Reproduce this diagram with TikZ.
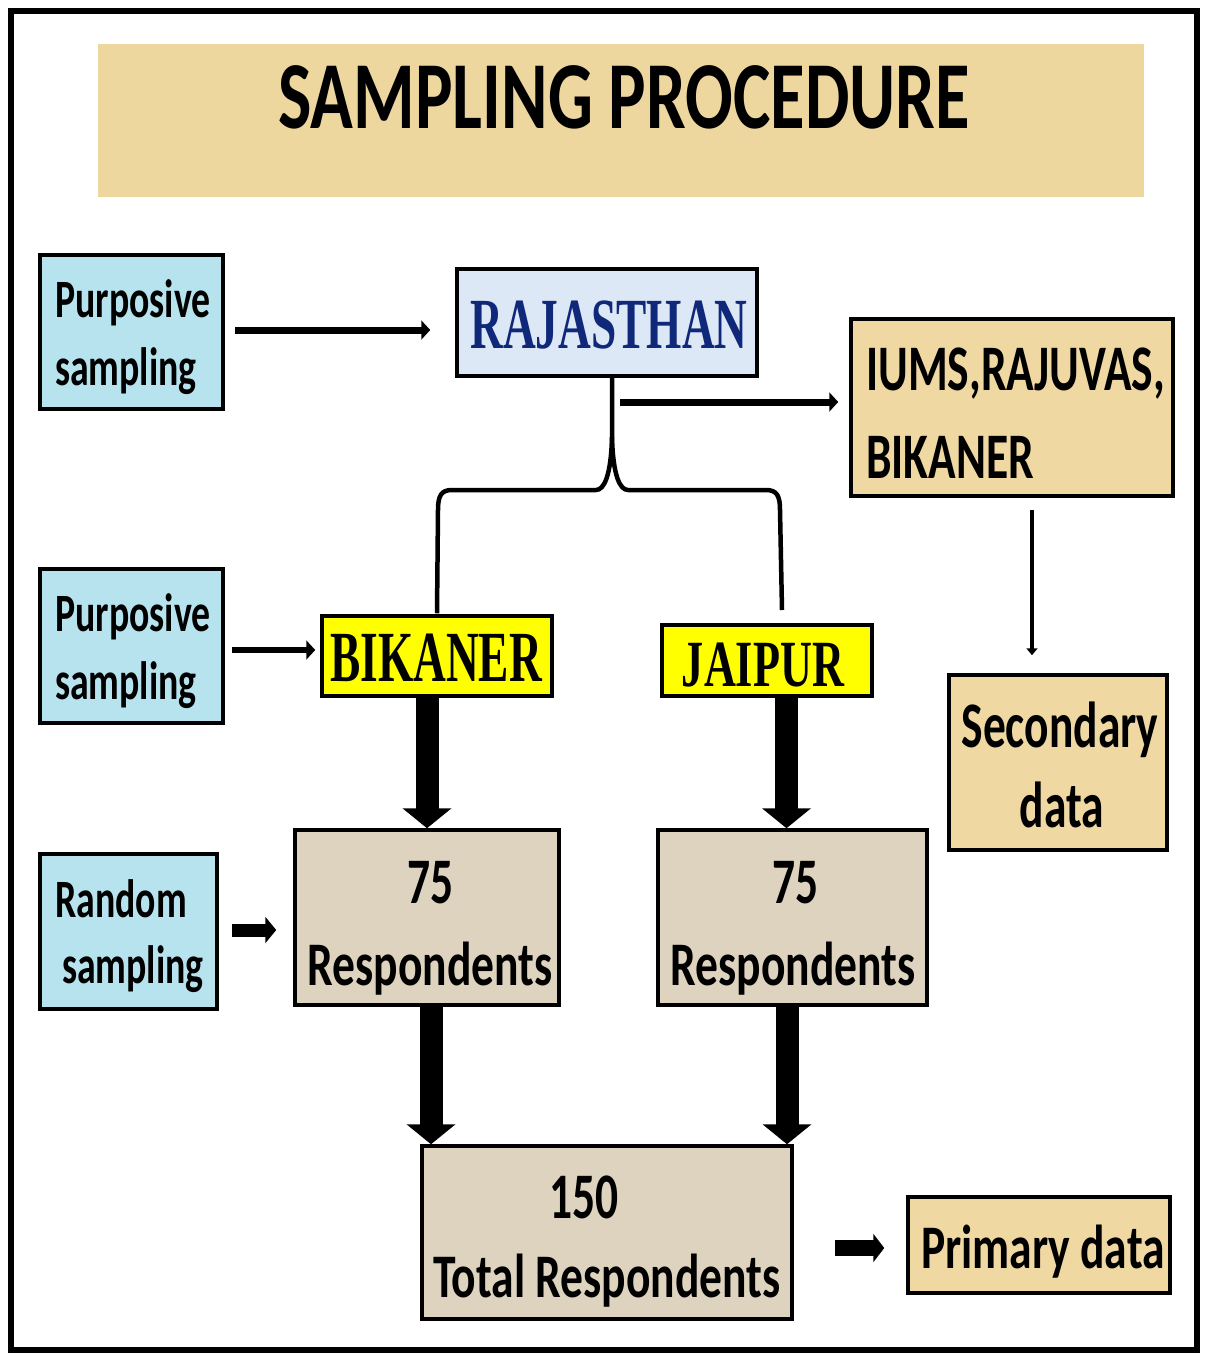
\documentclass[tikz,border=0pt]{standalone}
\usepackage{fontspec}
\usetikzlibrary{arrows.meta,calc}
\newfontfamily\cb{Carlito}[FakeStretch=0.70]
\newfontfamily\cbw{Carlito}[FakeStretch=0.735]
\newfontfamily\ts{Liberation Serif}[FakeStretch=0.63]
\newfontfamily\tsw{Liberation Serif}[FakeStretch=0.67]
\definecolor{titlebg}{HTML}{EED79F}
\definecolor{cyanbg}{HTML}{B6E3EE}
\definecolor{rajbg}{HTML}{DCE8F6}
\definecolor{tanbg}{HTML}{F0D8A2}
\definecolor{greybg}{HTML}{DED3BF}
\definecolor{navy}{HTML}{10287A}
\definecolor{yel}{HTML}{FFFF00}
\newcommand{\fs}[2]{\fontsize{#1}{#2}\selectfont}
\tikzset{
  box/.style={draw=black, line width=3.5pt, inner sep=0pt, anchor=center},
  txt/.style={inner sep=0pt, anchor=base},
  txtl/.style={inner sep=0pt, anchor=base west},
  smallcal/.style={font={\cb\bfseries\fs{54}{54}}},
  bigcal/.style={font={\cbw\bfseries\fs{62}{62}}},
  numcal/.style={font={\cb\bfseries\fs{65}{65}}},
  medarr/.style={line width=7pt, -{Triangle[width=19pt,length=9pt]}},
  thinarr/.style={line width=3.5pt, -{Triangle[width=11pt,length=7pt]}},
  fatarr/.style={line width=23pt, -{Triangle[width=48pt,length=20pt]}},
  shortarr/.style={line width=13pt, -{Triangle[width=26pt,length=11pt]}},
  bracel/.style={line width=4.5pt, line join=round}
}
\begin{document}
\begin{tikzpicture}[x=1pt,y=-1pt]
\useasboundingbox (0,0) rectangle (1207,1353);
% frame
\draw[line width=6pt] (11,11) rectangle (1197,1350);
% title band
\node[fill=titlebg, minimum width=1046pt, minimum height=153pt, inner sep=0pt] (band) at (621,120.5) {};
\node[txt, font={\cbw\bfseries\fs{96}{96}}] (title) at (624,128) {SAMPLING PROCEDURE};

% boxes
\node[box, fill=cyanbg, minimum width=183pt, minimum height=154pt] (p1) at (131.5,332) {};
\node[box, fill=rajbg, minimum width=300pt, minimum height=107pt] (raj) at (607,322.5) {};
\node[box, fill=tanbg, minimum width=322pt, minimum height=177pt] (iums) at (1012,407.5) {};
\node[box, fill=cyanbg, minimum width=183pt, minimum height=154pt] (p2) at (131.5,646) {};
\node[box, fill=yel, minimum width=230pt, minimum height=80pt] (bik) at (437,656) {};
\node[box, fill=yel, minimum width=210pt, minimum height=71pt] (jai) at (767,660.5) {};
\node[box, fill=tanbg, minimum width=218pt, minimum height=175pt] (sec) at (1058,762.5) {};
\node[box, fill=cyanbg, minimum width=177pt, minimum height=155pt] (rnd) at (128.5,931.5) {};
\node[box, fill=greybg, minimum width=264pt, minimum height=175pt] (r1) at (427,917.5) {};
\node[box, fill=greybg, minimum width=269pt, minimum height=175pt] (r2) at (792.5,917.5) {};
\node[box, fill=greybg, minimum width=370pt, minimum height=173pt] (tot) at (607,1232.5) {};
\node[box, fill=tanbg, minimum width=262pt, minimum height=96pt] (prim) at (1039,1245) {};

% texts
\node[txtl, smallcal] (p1a) at (55,317) {Purposive};
\node[txtl, smallcal] (p1b) at (55,385) {sampling};
\node[txt, font={\ts\bfseries\fs{72}{72}}, text=navy] (rajt) at (609,348) {RAJASTHAN};
\node[txtl, font={\cb\bfseries\fs{65}{65}}] (iumsa) at (866,390) {IUMS,RAJUVAS,};
\node[txtl, font={\cb\bfseries\fs{65}{65}}] (iumsb) at (866,478) {BIKANER};
\node[txtl, smallcal] (p2a) at (55,631) {Purposive};
\node[txtl, smallcal] (p2b) at (55,699) {sampling};
\node[txt, font={\ts\bfseries\fs{72}{72}}] (bikt) at (436,681) {BIKANER};
\node[txt, font={\tsw\bfseries\fs{66}{66}}] (jait) at (763,686) {JAIPUR};
\node[txt, numcal] (seca) at (1060,747) {Secondary};
\node[txt, numcal] (secb) at (1062,827) {data};
\node[txtl, smallcal] (rnda) at (55,917) {Random};
\node[txtl, smallcal] (rndb) at (62,983) {sampling};
\node[txt, numcal] (r1a) at (430.5,903) {75};
\node[txt, bigcal] (r1b) at (430,985) {Respondents};
\node[txt, numcal] (r2a) at (795.5,903) {75};
\node[txt, bigcal] (r2b) at (793,985) {Respondents};
\node[txt, numcal] (tota) at (584,1218) {150};
\node[txt, bigcal] (totb) at (607,1297) {Total Respondents};
\node[txt, font={\cbw\bfseries\fs{62}{62}}] (primt) at (1043,1268) {Primary data};

% connectors
\coordinate (a1s) at ([xshift=10pt,yshift=2pt]p1.east);
\coordinate (a1e) at ([xshift=-25pt]raj.west);
\draw[medarr] (a1s) -- (a1e |- a1s);

\coordinate (rs) at ([xshift=13pt]raj.south);
\coordinate (a2e) at ([xshift=-11pt,yshift=5.5pt]iums.west);
\draw[medarr] (rs |- a2e) -- (a2e);

% brace
\coordinate (bs) at ([xshift=5pt]raj.south);
\coordinate (bl) at ([yshift=1pt]bik.north);
\coordinate (br) at (782,610);
\coordinate (bm) at (612,437);
\draw[bracel] (bs) -- (bm)
  .. controls (611,476) and (604,490) .. (596,490) -- (452,490)
  .. controls (441,490) and (438,496) .. (438,510) -- (bl);
\draw[bracel] (bm)
  .. controls (613,476) and (620,490) .. (628,490) -- (766,490)
  .. controls (777,490) and (780,496) .. (780,510) -- (br);

\coordinate (a3s) at ([xshift=7pt,yshift=-4pt]p2.east);
\coordinate (a3e) at ([xshift=-5pt]bik.west);
\draw[medarr, line width=6pt] (a3s) -- (a3e |- a3s);

\coordinate (a4s) at ([xshift=20pt,yshift=-12pt]iums.south);
\coordinate (a4e) at ([yshift=18pt]sec.north);
\draw[thinarr] (a4s) -- (a4s |- a4e);

\draw[fatarr] (r1.north |- bik.south) -- (r1.north);
\coordinate (r2n) at ([xshift=-6pt]r2.north);
\draw[fatarr] (r2n |- jai.south) -- (r2n);
\coordinate (r1s) at ([xshift=4pt]r1.south);
\draw[fatarr] (r1s) -- (r1s |- tot.north);
\coordinate (r2s) at ([xshift=-5.5pt]r2.south);
\draw[fatarr] (r2s) -- (r2s |- tot.north);

\coordinate (a5s) at ([xshift=13pt,yshift=1.5pt]rnd.east);
\coordinate (a5e) at ([xshift=-17pt]r1.west);
\draw[shortarr] (a5s) -- (a5e |- a5s);

\coordinate (a6s) at ([xshift=41pt,yshift=-15.5pt]tot.east);
\coordinate (a6e) at ([xshift=-22pt]prim.west);
\draw[shortarr, line width=16pt, -{Triangle[width=28pt,length=11pt]}] (a6s) -- (a6e |- a6s);
\end{tikzpicture}
\end{document}
